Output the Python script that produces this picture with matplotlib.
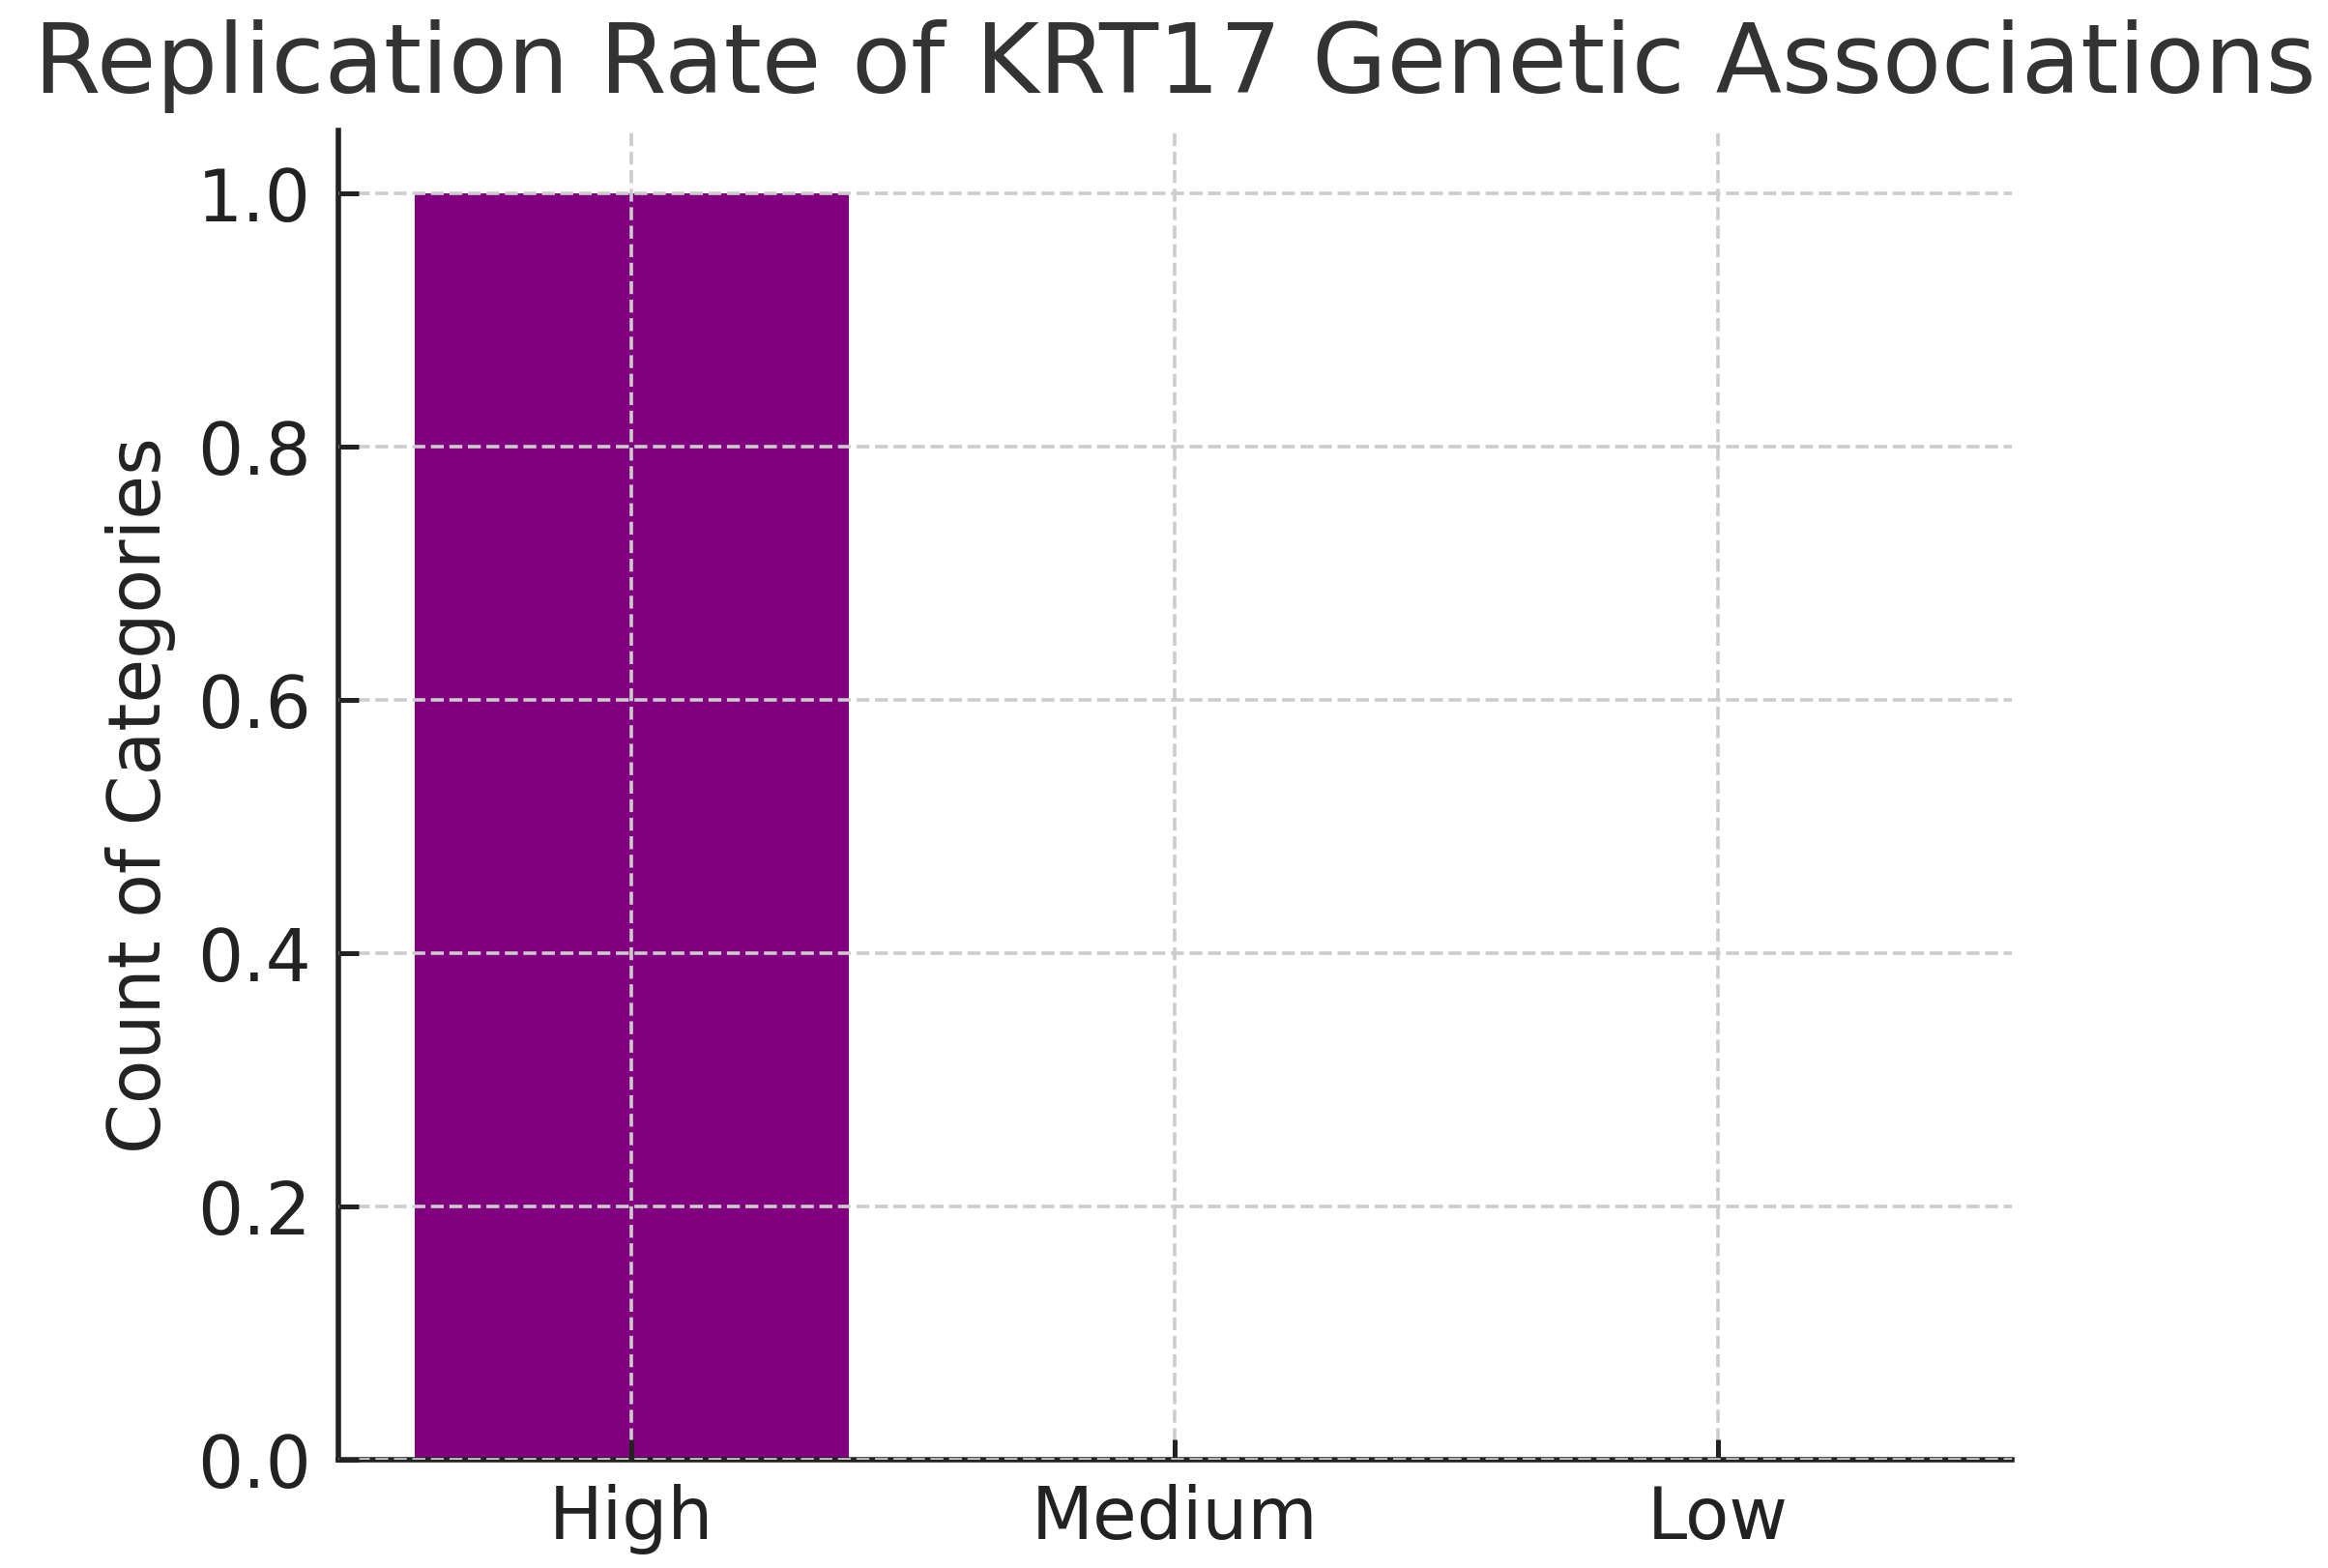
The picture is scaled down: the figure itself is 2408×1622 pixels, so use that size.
import matplotlib
matplotlib.use('Agg')
from matplotlib import pyplot as plt

# data
categories = ['High', 'Medium', 'Low']
counts = [1, 0, 0]
yticks = [0.0, 0.2, 0.4, 0.6, 0.8, 1.0]

plt.rcParams['font.family'] = ['DejaVu Sans']

fig = plt.figure(figsize=(12.04, 8.11), dpi=200)
ax = fig.add_axes([0.1453, 0.069, 0.7187, 0.8478])

ax.bar(categories, counts, width=0.8, color='purple')

ax.set_title('Replication Rate of KRT17 Genetic Associations',
             fontsize=36, color='#333333', pad=14)
ax.set_ylabel('Count of Categories', fontsize=26.8, color='#222222', labelpad=8)
ax.set_yticks(yticks)
ax.set_yticklabels(['%.1f' % v for v in yticks])
ax.tick_params(axis='both', direction='in', length=7.5, width=1.8,
               labelsize=26.7, colors='#222222')
ax.tick_params(axis='y', pad=10)
ax.tick_params(axis='x', pad=9)

ax.grid(True, linestyle='--', color='#cccccc', linewidth=1.3)
ax.set_axisbelow(False)

for side in ['top', 'right']:
    ax.spines[side].set_visible(False)
for side in ['left', 'bottom']:
    ax.spines[side].set_linewidth(2.0)
    ax.spines[side].set_color('#222222')

plt.savefig('out.png', dpi=200)
plt.close()
